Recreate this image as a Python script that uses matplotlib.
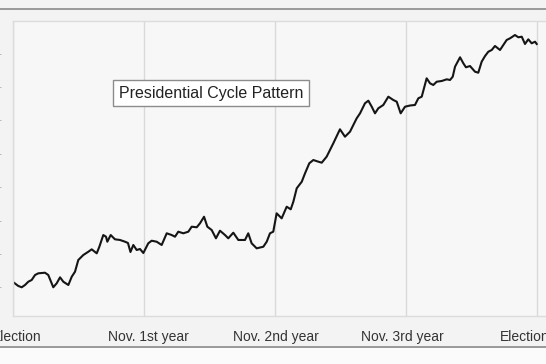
import matplotlib.pyplot as plt
from matplotlib.lines import Line2D
from matplotlib.patches import Rectangle

# ------------------------------
# Data (months since election, cumulative % change)
# ------------------------------
months = [0.09, 0.49, 0.80, 1.10, 1.40, 1.71, 2.02, 2.32, 2.93, 3.23,
          3.69, 4.00, 4.31, 4.61, 5.07, 5.38, 5.68, 5.98, 6.44, 6.90,
          7.21, 7.67, 7.91, 8.27, 8.52, 8.64, 8.95, 9.34, 9.80, 10.26,
          10.53, 10.76, 11.02, 11.33, 11.63, 11.94, 12.39, 12.70, 13.16, 13.62,
          14.08, 14.54, 14.84, 15.14, 15.60, 16.06, 16.37, 16.83, 17.13, 17.50,
          17.80, 18.20, 18.59, 18.96, 19.42, 19.72, 20.18, 20.64, 21.25, 21.55,
          21.86, 22.32, 22.93, 23.24, 23.54, 23.84, 24.15, 24.61, 25.07, 25.44,
          25.68, 25.99, 26.45, 26.75, 27.14, 27.51, 27.97, 28.28, 28.73, 29.04,
          29.34, 29.95, 30.41, 30.87, 31.48, 31.79, 32.24, 32.55, 32.86, 33.16,
          33.46, 33.92, 34.38, 34.84, 35.15, 35.51, 35.91, 36.37, 36.82, 37.13,
          37.44, 37.65, 37.89, 38.20, 38.50, 38.81, 39.27, 39.73, 40.03, 40.28,
          40.49, 40.95, 41.25, 41.49, 41.86, 42.32, 42.62, 42.93, 43.24, 43.54,
          43.85, 44.15, 44.61, 44.91, 45.22, 45.53, 45.98, 46.29, 46.60, 46.90,
          47.20, 47.51, 47.82, 47.97]
change = [0.64, 0.15, -0.04, 0.30, 0.79, 1.05, 1.80, 2.05, 2.14, 1.80,
          -0.04, 0.55, 1.45, 0.79, 0.30, 1.54, 2.29, 4.04, 4.79, 5.28,
          5.64, 5.04, 6.03, 7.78, 7.53, 6.78, 7.78, 7.14, 7.04, 6.78,
          6.59, 5.24, 6.29, 5.54, 5.69, 5.09, 6.54, 6.93, 6.78, 6.29,
          8.04, 7.78, 7.53, 8.28, 8.04, 8.28, 9.03, 8.94, 9.54, 10.52,
          9.03, 8.53, 7.29, 8.43, 7.78, 7.29, 8.13, 7.04, 7.04, 8.04,
          6.54, 5.79, 6.03, 6.78, 8.04, 8.28, 11.03, 10.28, 12.02, 11.63,
          12.77, 14.78, 15.76, 17.02, 18.52, 19.01, 18.76, 18.61, 19.51, 20.51,
          21.51, 23.61, 22.50, 23.25, 25.25, 26.00, 27.50, 27.89, 26.99, 26.00,
          26.75, 27.25, 28.49, 27.99, 27.74, 26.00, 26.99, 27.17, 27.25, 28.25,
          28.49, 29.75, 31.24, 30.49, 30.24, 30.73, 30.84, 31.09, 30.99, 31.48,
          32.98, 34.39, 33.49, 32.89, 33.08, 32.23, 32.08, 33.73, 34.58, 35.22,
          35.48, 36.08, 35.48, 36.23, 36.98, 37.23, 37.72, 37.38, 37.47, 36.38,
          37.08, 36.48, 36.72, 36.38]

grid_months = [0, 12, 24, 36, 48]
label_months = [0.32, 12.41, 24.09, 35.68, 46.9]
labels = ['Election', 'Nov. 1st year', 'Nov. 2nd year', 'Nov. 3rd year', 'Election']
y_ticks = [0, 5, 10, 15, 20, 25, 30, 35]

# ------------------------------
# Figure
# ------------------------------
W, H = 546, 364
fig = plt.figure(figsize=(W / 100, H / 100), dpi=100, facecolor='#f3f3f3')
plt.rcParams['font.family'] = ['Liberation Sans', 'DejaVu Sans']

# lighter strip below the bottom frame line
fig.add_artist(Rectangle((0, 0), 1, 16 / H, transform=fig.transFigure,
                         facecolor='#fbfbfb', edgecolor='none'))
# dark frame lines top and bottom
fig.add_artist(Line2D([0, 1], [1 - 8.5 / H, 1 - 8.5 / H], transform=fig.transFigure,
                      color='#8a8a8a', lw=1.2))
fig.add_artist(Line2D([0, 1], [1 - 347 / H, 1 - 347 / H], transform=fig.transFigure,
                      color='#8a8a8a', lw=1.2))

ax = fig.add_axes([13 / W, 48 / H, (575 - 13) / W, 295 / H])
ax.set_facecolor('#f7f7f7')
ax.plot(months, change, color='#151515', lw=1.5)

ax.set_xlim(0, (575 - 13) / 10.917)
ax.set_ylim(-4.34, 39.82)

ax.set_xticks(grid_months)
ax.set_xticklabels([])
ax.set_xticks(label_months, minor=True)
ax.set_xticklabels(labels, minor=True, fontsize=10, color='#333333')
ax.tick_params(axis='x', which='both', length=0)
ax.tick_params(axis='x', which='minor', pad=10)
ax.grid(True, axis='x', color='#d9d9d9', lw=1.0)

ax.set_yticks(y_ticks)
ax.set_yticklabels(['-'] * len(y_ticks), fontsize=9, color='#b0b0b0')
ax.tick_params(axis='y', length=0, pad=8)

for s in ax.spines.values():
    s.set_color('#dcdcdc')
    s.set_linewidth(1.0)

ax.text(18.14, 29.04, 'Presidential Cycle Pattern', fontsize=11.5, color='#222222',
        ha='center', va='center',
        bbox=dict(boxstyle='square,pad=0.35', facecolor='white', edgecolor='#8c8c8c', lw=1.0))

fig.savefig('out.png', dpi=100, facecolor=fig.get_facecolor())
